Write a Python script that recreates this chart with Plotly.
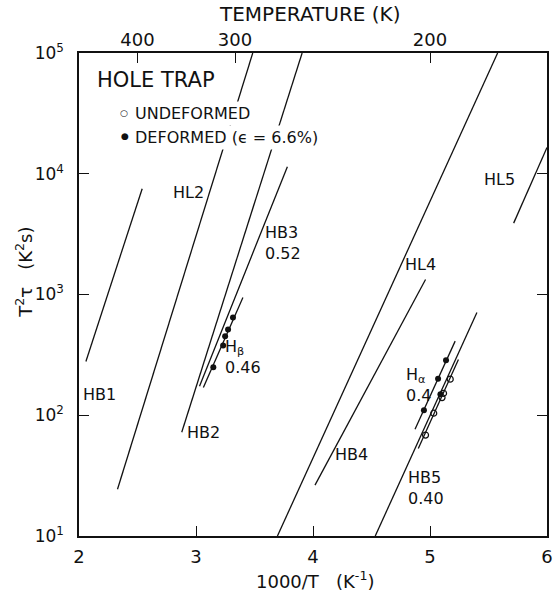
import plotly.graph_objects as go

# ---- data (x = 1000/T in K^-1, y = T^2 tau in K^2 s) ----
line_names = ["HB1", "HL2", "HB2", "HB3", "Hbeta", "HL4", "HB4", "HL5", "HB5", "Halpha_def", "Halpha_und"]
line_x = [
    [2.059, 2.540],
    [2.329, 3.485],
    [2.878, 3.907],
    [3.030, 3.781],
    [3.063, 3.401],
    [3.696, 5.578],
    [4.017, 4.962],
    [5.715, 6.000],
    [4.532, 5.401],
    [4.872, 5.215],
    [4.900, 5.243],
]
line_y = [
    [279, 7520],
    [24.4, 1e5],
    [72.4, 1e5],
    [174, 11430],
    [170, 944],
    [10, 1e5],
    [26.4, 1330],
    [3900, 16500],
    [10, 710],
    [76.6, 411],
    [53, 290],
]

deformed_x = [3.148, 3.232, 3.249, 3.274, 3.316, 4.948, 5.069, 5.089, 5.137]
deformed_y = [250, 379, 450, 514, 646, 110, 201, 149, 286]
undeformed_x = [4.962, 5.032, 5.103, 5.116, 5.173]
undeformed_y = [68.5, 104, 140, 152, 199]

x_ticks = [2, 3, 4, 5, 6]
y_exponents = [1, 2, 3, 4, 5]
temp_ticks = [400, 300, 200]

FONT = "DejaVu Sans"
BLACK = "#111"

fig = go.Figure()
for nm, xs, ys in zip(line_names, line_x, line_y):
    fig.add_trace(go.Scatter(x=xs, y=ys, mode="lines", line=dict(color=BLACK, width=1.3),
                             showlegend=False, hoverinfo="skip", name=nm))

fig.add_trace(go.Scatter(x=undeformed_x, y=undeformed_y, mode="markers", name="UNDEFORMED",
                         showlegend=False,
                         marker=dict(symbol="circle-open", size=6, color=BLACK, line=dict(width=1.2))))
fig.add_trace(go.Scatter(x=deformed_x, y=deformed_y, mode="markers", name="DEFORMED",
                         showlegend=False,
                         marker=dict(symbol="circle", size=6, color=BLACK)))
# invisible trace to activate the top (temperature) axis
fig.add_trace(go.Scatter(x=[2, 6], y=[10, 10], xaxis="x2", mode="lines",
                         line=dict(width=0), showlegend=False, hoverinfo="skip"))

fig.update_layout(
    width=558, height=603,
    margin=dict(l=79, r=5, t=53, b=67),
    paper_bgcolor="white", plot_bgcolor="white",
    font=dict(family=FONT, color=BLACK, size=16),
    showlegend=False,
    xaxis=dict(range=[2, 6], tickvals=x_ticks, ticktext=[str(v) for v in x_ticks],
               ticks="inside", ticklen=10, tickwidth=1.3, tickcolor=BLACK,
               showline=True, linecolor=BLACK, linewidth=1.5, mirror=True,
               showgrid=False, zeroline=False, ticklabelstandoff=4,
               tickfont=dict(size=18)),
    xaxis2=dict(range=[2, 6], overlaying="x", side="top",
                tickvals=[1000 / t for t in temp_ticks], ticktext=[str(t) for t in temp_ticks],
                ticks="inside", ticklen=10, tickwidth=1.3, tickcolor=BLACK,
                showline=False, showgrid=False, zeroline=False, tickfont=dict(size=18),
                ticklabelstandoff=2),
    yaxis=dict(type="log", range=[1, 5], tickvals=[10 ** e for e in y_exponents],
               ticktext=["10<sup>%d</sup>" % e for e in y_exponents],
               ticks="inside", ticklen=10, tickwidth=1.3, tickcolor=BLACK,
               showline=True, linecolor=BLACK, linewidth=1.5, mirror="ticks",
               showgrid=False, zeroline=False, ticklabelstandoff=10,
               tickfont=dict(size=17)),
)

ann = []
def label(text, x, logy, **kw):
    d = dict(text=text, x=x, y=logy, xref="x", yref="y", showarrow=False,
             font=dict(size=16, family=FONT, color=BLACK), align="left", xanchor="center", yanchor="middle")
    d.update(kw)
    ann.append(d)

def ptext(text, x, y, size=16, **kw):
    d = dict(text=text, x=x, y=y, xref="paper", yref="paper", showarrow=False,
             font=dict(size=size, family=FONT, color=BLACK), xanchor="left", yanchor="middle",
             bgcolor="white", borderpad=2)
    d.update(kw)
    ann.append(d)

# key (drawn as text over the lines, masking them like the original)
ptext("HOLE TRAP", 0.033, 0.944, size=21)
ptext("\u25cb", 0.082, 0.876, size=9, bgcolor="rgba(0,0,0,0)")
ptext("UNDEFORMED", 0.113, 0.874)
ptext("\u25cf", 0.084, 0.828, size=9, bgcolor="rgba(0,0,0,0)")
ptext("DEFORMED (\u03f5 = 6.6%)", 0.113, 0.826)

label("HB1", 2.177, 2.174)
label("HL2", 2.937, 3.843)
label("HB2", 3.063, 1.860)
label("HB3<br>0.52", 3.74, 3.43)
label("H<sub>\u03b2</sub><br>0.46", 3.405, 2.48)
label("HL4", 4.92, 3.248)
label("HB4", 4.33, 1.678)
label("HL5", 5.595, 3.95)
label("H<sub>\u03b1</sub><br>0.4", 4.90, 2.25)
label("HB5<br>0.40", 4.97, 1.40)

ann.append(dict(text="TEMPERATURE (K)", x=0.494, y=1, xref="paper", yref="paper",
                xanchor="center", yanchor="middle", yshift=39, showarrow=False,
                font=dict(size=20, family=FONT, color=BLACK)))
ann.append(dict(text="1000/T   (K<sup>-1</sup>)", x=0.504, y=0, xref="paper", yref="paper",
                xanchor="center", yanchor="middle", yshift=-44, showarrow=False,
                font=dict(size=18, family=FONT, color=BLACK)))
ann.append(dict(text="T<sup>2</sup>\u03c4   (K<sup>2</sup>s)", x=0, y=0.545, xref="paper", yref="paper",
                xanchor="center", yanchor="middle", xshift=-55, showarrow=False, textangle=-90,
                font=dict(size=18, family=FONT, color=BLACK)))
fig.update_layout(annotations=ann)

fig.write_html("out.html")
